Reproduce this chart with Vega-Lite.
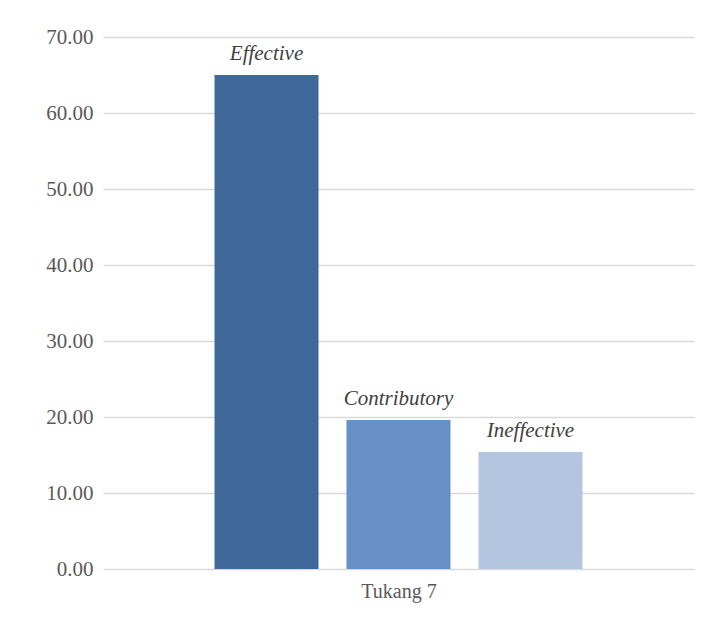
{
  "$schema": "https://vega.github.io/schema/vega-lite/v6.json",
  "width": 591,
  "height": 532,
  "autosize": {"type": "none"},
  "padding": {"left": 103, "top": 37, "right": 18, "bottom": 55},
  "background": "white",
  "config": {"view": {"stroke": null}, "font": "'Liberation Serif', 'Times New Roman', serif"},
  "data": {"values": [
    {"group": "Tukang 7", "category": "Effective", "value": 65.0},
    {"group": "Tukang 7", "category": "Contributory", "value": 19.6},
    {"group": "Tukang 7", "category": "Ineffective", "value": 15.4}
  ]},
  "encoding": {
    "x": {
      "field": "category", "type": "nominal", "sort": ["Effective", "Contributory", "Ineffective"],
      "scale": {"paddingInner": 0.212, "paddingOuter": 0.845},
      "axis": {"title": "Tukang 7", "labels": false, "ticks": false, "domain": false, "titleFont": "'Liberation Serif', 'Times New Roman', serif", "titleFontSize": 20, "titleFontWeight": "normal", "titleColor": "#595959", "titlePadding": 12}
    },
    "y": {
      "field": "value", "type": "quantitative",
      "scale": {"domain": [0, 70]},
      "axis": {"title": null, "values": [0, 10, 20, 30, 40, 50, 60, 70], "format": ".2f", "labelFont": "'Liberation Serif', 'Times New Roman', serif", "labelFontSize": 21, "labelColor": "#595959", "labelPadding": 10, "ticks": false, "domain": false, "gridColor": "#d9d9d9", "gridWidth": 1.5}
    }
  },
  "layer": [
    {
      "mark": {"type": "bar"},
      "encoding": {
        "color": {"field": "category", "type": "nominal", "scale": {"domain": ["Effective", "Contributory", "Ineffective"], "range": ["#3F699B", "#6690C6", "#B4C5E0"]}, "legend": null}
      }
    },
    {
      "mark": {"type": "text", "dy": -21, "fontStyle": "italic", "font": "'Liberation Serif', 'Times New Roman', serif", "fontSize": 21, "color": "#404040", "baseline": "middle"},
      "encoding": {"text": {"field": "category"}}
    }
  ]
}
